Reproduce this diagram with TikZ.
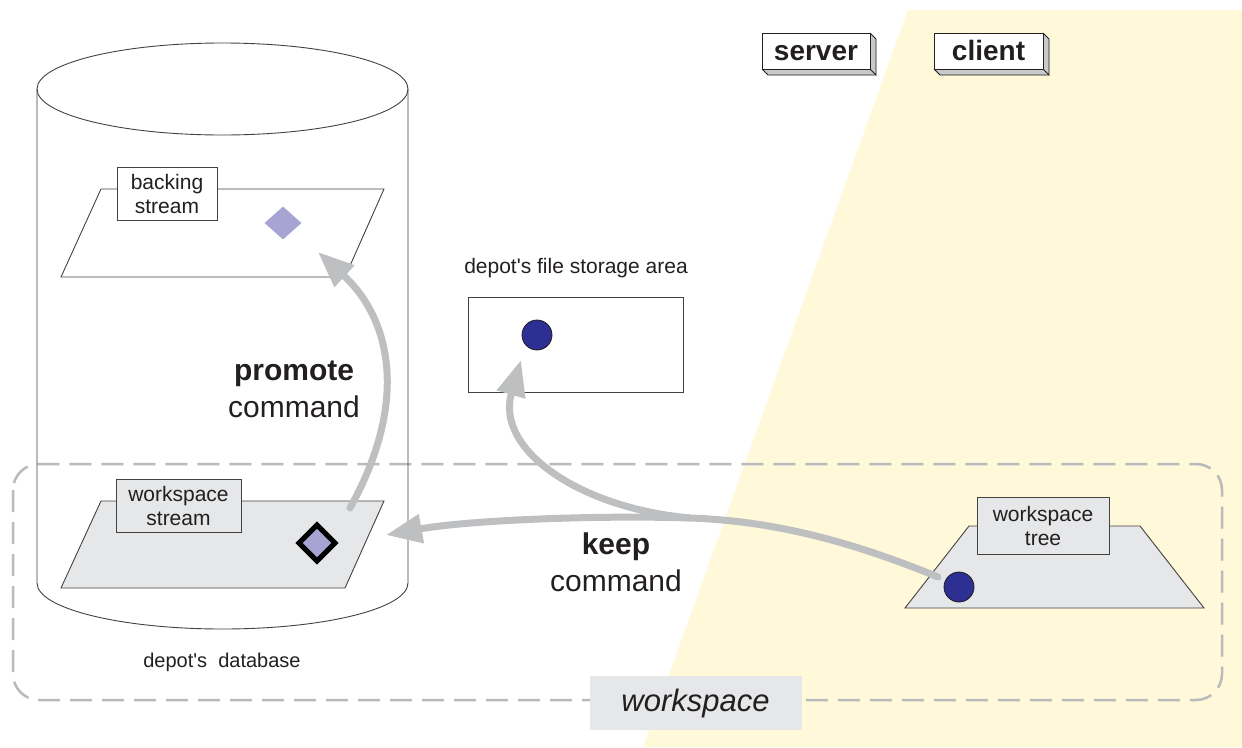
\documentclass[tikz,border=0pt]{standalone}
\usepackage{fontspec}
\setmainfont{Liberation Sans}
\usetikzlibrary{arrows.meta,shapes.geometric}

\definecolor{clientbg}{RGB}{255,248,217}
\definecolor{panegray}{RGB}{230,231,232}
\definecolor{arrowgray}{RGB}{190,191,193}
\definecolor{dashgray}{RGB}{185,186,188}
\definecolor{lavender}{RGB}{167,164,211}
\definecolor{fileblue}{RGB}{45,47,146}
\definecolor{ink}{RGB}{35,31,32}
\definecolor{sidegray}{RGB}{200,201,203}

\newcommand\lblfont{\fontsize{21}{25}\selectfont}
\newcommand\cmdfont{\fontsize{30}{37}\selectfont}
\newcommand\tagfont{\fontsize{28}{32}\selectfont\bfseries}

\begin{document}
\begin{tikzpicture}[x=1pt,y=-1pt,
  outline/.style={draw=ink!85, line width=0.9},
  labelbox/.style={outline, inner sep=0, minimum height=53, align=center,
    font=\lblfont, text=ink},
  plane/.style={outline},
  flow/.style={draw=arrowgray, line width=7, line cap=round,
    -{Triangle[length=36pt,width=28pt]}},
  token/.style={circle, minimum size=30, inner sep=0, fill=fileblue,
    draw=ink, line width=0.8},
  plaintext/.style={inner sep=0, text=ink, align=center},
  sidebox/.style={draw=ink, line width=0.9, fill=sidegray},
  tagbox/.style={draw=ink, line width=0.9, fill=white, minimum height=36,
    inner sep=0, font=\tagfont, text=ink, text height=23, text depth=4}]
\useasboundingbox (0,0) rectangle (1242,747);

% client side of the picture
\fill[clientbg] (908,10) -- (1242,10) -- (1242,747) -- (643,747) -- cycle;

% workspace boundary
\draw[dashgray, line width=2.5, dash pattern=on 22 off 10, rounded corners=26]
  (13,464) rectangle (1222,700);

% depot database cylinder
\draw[outline] (222.5,89) ellipse [x radius=185.5, y radius=46];
\draw[outline] (37,89) -- (37,583)
  .. controls (37,608.4) and (120.05,629) .. (222.5,629)
  .. controls (324.95,629) and (408,608.4) .. (408,583) -- (408,89);

% backing stream plane
\draw[plane, fill=white] (101,189) -- (384,189) -- (345,277) -- (61,277) -- cycle;
\node[labelbox, fill=white, minimum width=100] (backing) at (167,193.5)
  {backing\\[-1pt]stream};
\node[diamond, fill=lavender, minimum width=37, minimum height=33, inner sep=0]
  (bdia) at (283,223) {};

% workspace stream plane
\draw[plane, fill=panegray] (101,501) -- (384,501) -- (345,588) -- (61,588) -- cycle;
\node[labelbox, fill=panegray, minimum width=125] (wstream) at (178.5,505.5)
  {workspace\\[-1pt]stream};
\draw[line width=5, fill=lavender, line join=miter]
  (317,525) -- (335,543) -- (317,561) -- (299,543) -- cycle;
\coordinate (wdia) at (317,543);

% depot's file storage area
\node[plaintext, font=\lblfont] (storagelbl) at (576,268)
  {depot\textquotesingle s file storage area};
\node[outline, fill=white, minimum width=215, minimum height=95, inner sep=0]
  (storage) at (575.5,344.5) {};

% workspace tree plane
\draw[plane, fill=panegray] (969,526) -- (1140,526) -- (1204,608) -- (905,608) -- cycle;
\node[labelbox, fill=panegray, minimum width=132, minimum height=57] (wtree)
  at (1043,525.5) {workspace\\[-1pt]tree};

% database caption
\node[plaintext, font=\fontsize{20}{24}\selectfont] (dblbl) at (222,662)
  {depot\textquotesingle s\ \ database};

% server / client tags
\fill[sidegray] (870,33) -- (876,39) -- (876,75) -- (768,75) -- (762,69) -- (870,69) -- cycle;
\draw[sidebox] (870,33) -- (876,39) -- (876,75) -- (870,69);
\draw[sidebox] (762,69) -- (768,75) -- (876,75);
\node[tagbox, minimum width=108] (server) at (816,51) {server};
\fill[sidegray] (1043,33) -- (1049,39) -- (1049,75) -- (940,75) -- (934,69) -- (1043,69) -- cycle;
\draw[sidebox] (1043,33) -- (1049,39) -- (1049,75) -- (1043,69);
\draw[sidebox] (934,69) -- (940,75) -- (1049,75);
\node[tagbox, minimum width=109] (client) at (988.5,51) {client};

% command captions
\node[plaintext, font=\cmdfont] (promote) at (294,389)
  {\textbf{promote}\\command};
\node[plaintext, font=\cmdfont] (keep) at (616,562)
  {\textbf{keep}\\command};

% connector end points
\coordinate (ptail) at (350,508);
\coordinate (ptip) at (318,252);
\coordinate (ktail) at (938,577);
\coordinate (split) at (690,518);
\coordinate (ktip) at (386,535);
\coordinate (stip) at (521,360);

% flows
\draw[flow] (ptail) .. controls (410,400) and (390,318) .. (ptip);
\draw[flow] (ktail) .. controls (860,545) and (780,521) .. (split)
  .. controls (600,515) and (470,520) .. (ktip);
\draw[flow] (split) .. controls (580,508) and (495,450) .. (stip);

% file tokens
\node[token] (sfile) at (537,335) {};
\node[token] (tfile) at (959,587) {};

% workspace caption
\node[fill=panegray, minimum width=212, minimum height=54, inner sep=0,
  font=\fontsize{31}{36}\selectfont\itshape, text=ink] (wslbl) at (695.5,703)
  {workspace};
\end{tikzpicture}
\end{document}
